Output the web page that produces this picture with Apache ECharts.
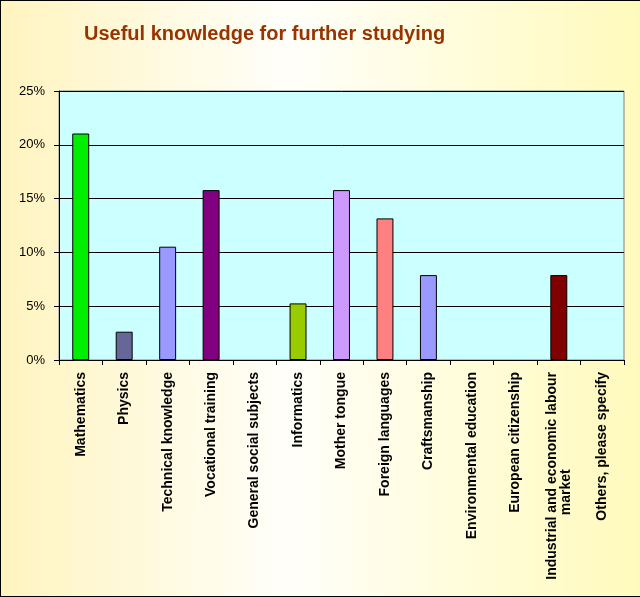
<!DOCTYPE html>
<html lang="en">
<head>
    <meta charset="UTF-8">
    <title>Useful knowledge for further studying</title>
    <style>
        * {
            padding: 0;
            margin: 0;
        }

        .EC {
            width: 640px;
            height: 597px;
        }

        .frame {
            position: absolute;
            left: 0;
            top: 0;
            width: 640px;
            height: 597px;
            box-sizing: border-box;
            border-left: 1px solid #000;
            border-top: 1px solid #000;
            border-bottom: 1px solid #000;
            pointer-events: none;
        }
    </style>
    <script src="https://cdn.jsdelivr.net/npm/echarts@6.0.0/dist/echarts.min.js"></script>
</head>
<body>
<div class="EC"></div>
<div class="frame"></div>
<script>
    const categories = [
        'Mathematics',
        'Physics',
        'Technical knowledge',
        'Vocational training',
        'General social subjects',
        'Informatics',
        'Mother tongue',
        'Foreign languages',
        'Craftsmanship',
        'Environmental education',
        'European citizenship',
        'Industrial and economic labour\nmarket                         ',
        'Others, please specify'
    ]
    // share of answers, %
    const values = [21.05, 2.63, 10.53, 15.79, 0, 5.26, 15.79, 13.16, 7.89, 0, 0, 7.89, 0]
    const barColors = ['#00ee00', '#666699', '#9999ff', '#800080', '#cccccc', '#99cc00', '#cc99ff',
        '#ff8080', '#9999ff', '#cccccc', '#cccccc', '#800000', '#cccccc']
    const yTicks = [0, 5, 10, 15, 20, 25]

    window.onload = () => {
        let EC = echarts.init(document.querySelector('.EC'))
        let option = {
            animation: false,
            backgroundColor: {
                type: 'linear',
                x: 0, y: 0, x2: 1, y2: 0,
                colorStops: [
                    {offset: 0, color: '#fff4bf'},
                    {offset: 0.45, color: '#fffffa'},
                    {offset: 1, color: '#fffabc'}
                ]
            },
            title: {
                text: 'Useful knowledge for further studying',
                left: 79,
                top: 19,
                textStyle: {
                    color: '#993300',
                    fontFamily: 'Liberation Sans, Arial, sans-serif',
                    fontWeight: 'bold',
                    fontSize: 20
                }
            },
            grid: {
                left: 59,
                top: 91,
                right: 16,
                bottom: 237,
                show: true,
                backgroundColor: '#ccffff',
                borderColor: '#808080',
                borderWidth: 1,
                outerBoundsMode: 'none'
            },
            xAxis: {
                type: 'category',
                data: categories,
                axisLine: {lineStyle: {color: '#000', width: 1}},
                axisTick: {show: true, length: 5, lineStyle: {color: '#000'}},
                axisLabel: {
                    rotate: 90,
                    interval: 0,
                    margin: 12,
                    color: '#000',
                    fontFamily: 'Liberation Sans, Arial, sans-serif',
                    fontWeight: 'bold',
                    fontSize: 14
                }
            },
            yAxis: {
                type: 'value',
                min: yTicks[0],
                max: yTicks[yTicks.length - 1],
                interval: 5,
                axisLine: {show: true, lineStyle: {color: '#000', width: 1}},
                axisTick: {show: true, length: 5, lineStyle: {color: '#000'}},
                splitLine: {lineStyle: {color: '#000', width: 1}},
                axisLabel: {
                    formatter: '{value}%',
                    margin: 14,
                    color: '#000',
                    fontFamily: 'Liberation Sans, Arial, sans-serif',
                    fontSize: 13
                }
            },
            series: [{
                type: 'bar',
                barWidth: '39%',
                data: values.map((v, i) => ({
                    value: v,
                    itemStyle: {color: barColors[i], borderColor: '#000', borderWidth: v ? 1 : 0, opacity: v ? 1 : 0}
                }))
            }]
        }
        EC.setOption(option)
    }
</script>
</body>
</html>
